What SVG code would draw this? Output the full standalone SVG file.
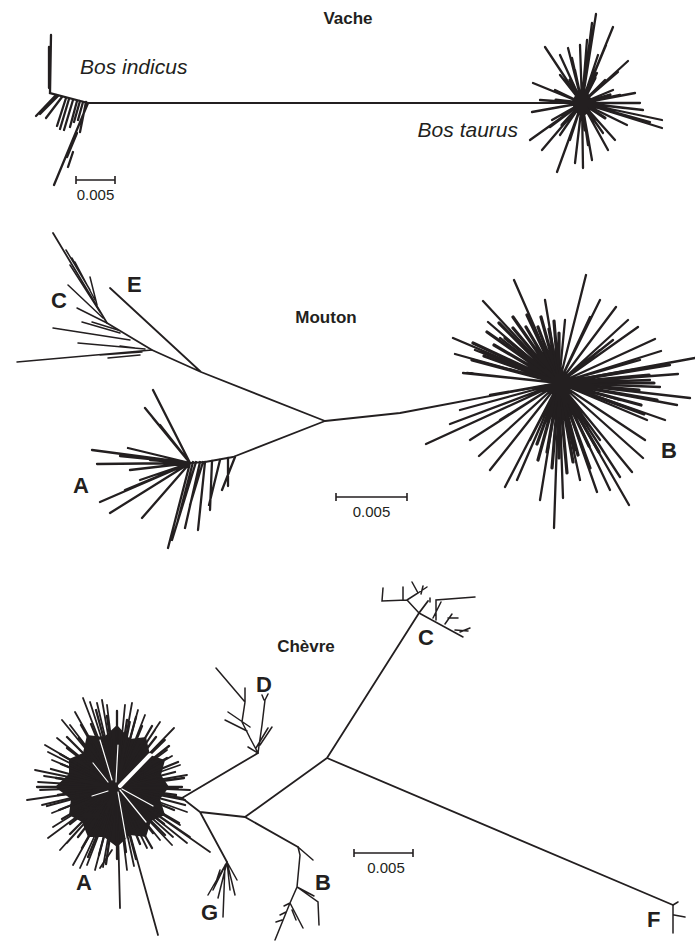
<svg xmlns="http://www.w3.org/2000/svg" width="695" height="941" viewBox="0 0 695 941">
<style>
.ti{font-family:"Liberation Sans",Arial,sans-serif;font-weight:bold;font-size:17px;fill:#231f20}
.lb{font-family:"Liberation Sans",Arial,sans-serif;font-weight:bold;font-size:22px;fill:#231f20}
.it{font-family:"Liberation Sans",Arial,sans-serif;font-style:italic;font-size:21px;fill:#231f20}
.sc{font-family:"Liberation Sans",Arial,sans-serif;font-size:15px;fill:#231f20}
.b{fill:none;stroke:#231f20;stroke-width:1.8;stroke-linecap:round;stroke-linejoin:round}
.r{fill:none;stroke:#231f20;stroke-width:2.3;stroke-linecap:round}
.t3{fill:none;stroke:#231f20;stroke-width:3.2;stroke-linecap:round}
.s{fill:none;stroke:#231f20;stroke-width:1.8;stroke-linecap:round}
.f{fill:none;stroke:#231f20;stroke-width:1.5;stroke-linecap:round}
.w{fill:none;stroke:#fff;stroke-width:1.2;stroke-linecap:round}
.bar{fill:none;stroke:#231f20;stroke-width:1.6}
.core{fill:#231f20}
</style>

<g id="vache">
<text class="ti" x="348" y="24" text-anchor="middle">Vache</text>
<text class="it" x="80" y="74">Bos indicus</text>
<text class="it" x="518" y="137" text-anchor="end">Bos taurus</text>
<g id="vache-edges">
<path class="b" d="M88 103L582 103"/>
<path class="r" d="M51 35L50 93L88 103M49 47L49 88"/>
<path class="r" d="M56 95L36 116M58 96L40 114M62 97L46 118M66 98L57 126M69 99L60 129M73 100L64 130M77 101L70 127M80 101L74 122M83 102L78 120M86 102L80 132M88 103L54 185M77 133L67 157M73 152L68 167"/>
<polygon class="core" points="577,92 588,93 593,102 590,112 582,117 574,111 572,101"/>
<path class="t3" d="M582 103L570 80M582 103L595 78M582 103L610 95M582 103L605 118M582 103L585 130M582 103L562 125M582 103L556 100"/>
<path class="r" d="M582 103L596 14M582 103L592 23M582 103L587 40M582 103L580 45M582 103L568 48M582 103L545 47M582 103L560 55M582 103L572 58M582 103L587 67M582 103L597 73M582 103L613 27M582 103L606 45M582 103L628 61M582 103L618 72M582 103L613 90M582 103L635 93M582 103L640 103M582 103L643 110M582 103L662 120M582 103L662 128M582 103L650 122M582 103L627 125M582 103L615 140M582 103L603 133M582 103L608 150M582 103L592 160M582 103L575 163M582 103L583 168M582 103L557 172M582 103L565 150M582 103L542 150M582 103L530 140M582 103L550 127M582 103L532 112M582 103L540 100M582 103L533 83M582 103L555 90M582 103L560 75M582 103L598 55M582 103L625 108M582 103L570 140M582 103L597 120M582 103L552 120M582 103L560 135M582 103L588 145M582 103L620 95M582 103L605 80M582 103L575 70"/>
</g>
<g id="vache-scale">
<path class="bar" d="M76 180H115M76 176V184M115 176V184"/>
<text class="sc" x="95.5" y="200" text-anchor="middle">0.005</text>
</g>
</g>

<g id="mouton">
<text class="ti" x="326" y="323" text-anchor="middle">Mouton</text>
<text class="lb" x="127" y="292">E</text>
<text class="lb" x="51" y="308">C</text>
<text class="lb" x="73" y="493">A</text>
<text class="lb" x="661" y="458">B</text>
<g id="mouton-edges">
<path class="b" d="M559 383L400 413L325 421M325 421L201 372L110 288M201 372L152 350L107 323L53 233M325 421L233 457L205 462L190 463"/>
<path class="f" d="M152 350L17 362M145 349L78 343M142 352L100 355M140 355L108 358M130 340L53 328M120 333L82 322M107 323L77 308M103 318L68 285M100 312L70 265M97 305L90 277M95 300L75 262M90 290L66 250M86 283L72 258M118 330L92 322M135 348L120 346"/>
<path class="r" d="M190 463L92 450M190 463L97 464M190 463L128 448M190 463L153 390M190 463L153 418M190 463L145 408M190 463L160 425M190 463L100 502M190 463L110 513M190 463L142 518M190 463L168 548M190 463L140 480M190 463L120 456M190 463L130 470M190 463L150 460M190 463L125 490M205 462L198 530M200 462L185 528M212 461L210 510M220 460L209 505M228 458L228 486M235 457L222 490M196 462L172 540M193 462L178 520M203 462L190 505"/>
<path class="t3" d="M559 383L472 360M559 383L484 356M559 383L473 343M559 383L494 345M559 383L487 332M559 383L505 338M559 383L499 323M559 383L513 328M559 383L513 317M559 383L526 327M559 383L527 315M559 383L538 327M559 383L541 317M559 383L549 329M559 383L554 321M559 383L559 333M559 383L573 462M559 383L567 473M559 383L559 458M559 383L552 468M559 383L547 452M559 383L538 460M559 383L537 444M559 383L599 452M559 383L589 446M559 383L590 468M559 383L578 455M559 383L654 383M559 383L639 390M559 383L657 400M559 383L641 405M559 383L649 375M559 383L633 370M559 383L644 414"/>
<path class="r" d="M559 383L514 280M559 383L586 275M559 383L483 301M559 383L453 338M559 383L455 354M559 383L463 373M559 383L488 322M559 383L565 320M559 383L616 307M559 383L628 320M559 383L638 327M559 383L655 339M559 383L661 351M559 383L695 358M559 383L678 374M559 383L690 398M559 383L677 405M559 383L647 420M559 383L643 458M559 383L632 472M559 383L629 505M559 383L597 492M559 383L563 498M559 383L554 528M559 383L505 487M559 383L479 456M559 383L426 444M559 383L450 424M559 383L470 440M559 383L517 480M559 383L580 480M559 383L620 477M559 383L660 387M559 383L650 380M559 383L613 340M559 383L590 317M559 383L500 338M559 383L467 373M559 383L530 320M559 383L545 300M559 383L600 300M559 383L670 365M559 383L665 420M559 383L610 490M559 383L540 500M559 383L490 470M559 383L460 410M559 383L475 350M559 383L520 350M559 383L540 340M559 383L600 350M559 383L620 400M559 383L600 440M559 383L575 450M559 383L530 440M559 383L500 420M559 383L490 395M559 383L505 360M559 383L585 330M559 383L640 360M559 383L645 440"/>
</g>
<g id="mouton-scale">
<path class="bar" d="M336 497H407M336 493V501M407 493V501"/>
<text class="sc" x="371.5" y="517" text-anchor="middle">0.005</text>
</g>
</g>

<g id="chevre">
<text class="ti" x="306" y="652" text-anchor="middle">Chèvre</text>
<text class="lb" x="256" y="692">D</text>
<text class="lb" x="418" y="645">C</text>
<text class="lb" x="76" y="890">A</text>
<text class="lb" x="315" y="890">B</text>
<text class="lb" x="201" y="920">G</text>
<text class="lb" x="647" y="927">F</text>
<g id="chevre-edges">
<path class="b" d="M117 787L182 798L258 753M182 798L200 812L245 817L327 758L419 613L428 601M327 758L673 905M245 817L298 847M200 812L227 862"/>
<path class="f" d="M258 753L250 738L242 722L245 702L245 688M245 702L216 668M228 712L250 727M225 720L247 731M258 753L262 725L265 700M264 700L262 695M265 700L268 694M256 748L268 728M260 745L272 727M248 747L258 753"/>
<path class="f" d="M419 613L407 600L382 601L383 588M403 600L403 587M407 600L418 593L412 582M418 593L427 587M421 594L423 586M419 613L463 637M436 620L436 600L475 597M430 602L430 598M433 618L441 602M445 624L452 614M455 630L468 631M460 632L470 628M448 618L458 618"/>
<path class="f" d="M227 862L208 895M227 862L213 890M227 862L218 898M225 865L223 917M227 862L237 880M227 862L235 895M227 862L230 890M220 870L215 885"/>
<path class="f" d="M298 847L313 860M298 847L300 855L297 887L290 903L275 940M297 887L318 902L319 925M297 887L314 896M290 903L303 928M290 903L284 906M286 912L280 915M282 920L276 922M292 910L296 920"/>
<path class="f" d="M673 905L673 933M673 905L678 902M674 915L685 917"/>
<polygon class="core" points="169,787 160,799 165,815 151,821 146,837 130,835 117,847 104,837 88,837 82,822 69,815 71,799 55,787 69,774 69,759 83,753 87,735 104,737 117,725 130,739 146,737 150,755 165,760 161,775"/>
<path class="r" d="M117 787L182 787M117 787L176 795M117 787L185 805M117 787L174 810M117 787L179 823M117 787L164 824M117 787L165 835M117 787L153 833M117 787L152 848M117 787L140 844M117 787L136 859M117 787L126 852M117 787L117 859M117 787L106 864M117 787L99 855M117 787L88 857M117 787L82 848M117 787L78 837M117 787L70 834M117 787L70 824M117 787L62 819M117 787L59 810M117 787L47 806M117 787L58 795M117 787L37 787M117 787L56 778M117 787L51 769M117 787L61 764M117 787L60 754M117 787L67 748M117 787L67 737M117 787L79 738M117 787L81 725M117 787L91 724M117 787L96 710M117 787L107 716M117 787L117 711M117 787L127 720M117 787L136 717M117 787L142 726M117 787L152 726M117 787L156 737M117 787L159 745M117 787L169 746M117 787L167 758M117 787L178 762M117 787L175 772M117 787L184 778"/>
<path class="s" d="M117 787L27 800M117 787L40 790M117 787L52 760M117 787L57 738M117 787L70 725M117 787L83 698M117 787L97 703M117 787L107 705M117 787L117 713M117 787L130 722M117 787L145 715M117 787L155 730M117 787L174 728M117 787L167 750M117 787L187 775M117 787L178 788M117 787L187 812M117 787L187 843M117 787L173 837M117 787L160 840M117 787L147 848M117 787L127 870M117 787L103 867M117 787L87 865M117 787L73 865M117 787L67 843M117 787L53 827M117 787L52 813M117 787L35 770M117 787L45 745M117 787L62 720M117 787L90 702M117 787L125 705M117 787L138 710M117 787L165 740M117 787L180 765M117 787L185 800M117 787L180 825M117 787L95 870M117 787L60 850M117 787L42 805M117 787L38 782M117 787L44 776M117 787L48 752M117 787L75 712M117 787L102 700M117 787L132 703M117 787L160 722M117 787L172 756M117 787L190 790M117 787L172 845M117 787L134 866M117 787L80 868M117 787L48 838"/>
<path class="b" d="M117 787L158 935M117 787L120 908M117 787L210 852M117 787L190 837M100 868L112 850"/>
<path class="w" d="M120 786L150 755" style="stroke-width:4"/>
<path class="w" d="M93 763L108 782M92 796L108 791M118 792L126 838M120 790L146 822M122 789L153 806M112 780L100 740M116 782L118 745"/>
</g>
<g id="chevre-scale">
<path class="bar" d="M354 853H413M354 849V857M413 849V857"/>
<text class="sc" x="386" y="873" text-anchor="middle">0.005</text>
</g>
</g>
</svg>
